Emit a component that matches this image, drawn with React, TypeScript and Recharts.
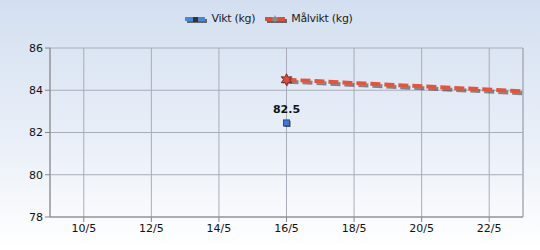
import {
  LineChart,
  Line,
  XAxis,
  YAxis,
  CartesianGrid,
  ReferenceLine,
  LabelList
} from 'recharts';

// dagar i maj
const days = [16, 23];
const vikt: (number | null)[] = [82.5, null];
const malvikt = [84.5, 83.95];

const xTicks = [10, 12, 14, 16, 18, 20, 22];
const yTicks = [78, 80, 82, 84, 86];

const data = days.map((d, i) => ({ day: d, vikt: vikt[i], malvikt: malvikt[i] }));

const FONT = '"DejaVu Sans", Tahoma, sans-serif';

function starPath(cx: number, cy: number, ro: number, ri: number) {
  const pts: string[] = [];
  for (let k = 0; k < 12; k++) {
    const r = k % 2 === 0 ? ro : ri;
    const a = (Math.PI / 6) * k - Math.PI / 2;
    pts.push(`${cx + r * Math.cos(a)},${cy + r * Math.sin(a)}`);
  }
  return `M${pts.join('L')}Z`;
}

const SquareDot = (props: any) => {
  const { cx, cy, index } = props;
  if (cx == null || cy == null || props.value == null) return <g key={`s${index}`} />;
  return (
    <g key={`s${index}`}>
      <rect x={cx - 2} y={cy - 1} width={6} height={6} fill="#222" opacity={0.8} />
      <rect x={cx - 3} y={cy - 2} width={6} height={6} fill="#3b78d8" stroke="#1d4c9a" strokeWidth={1} />
    </g>
  );
};

const StarDot = (props: any) => {
  const { cx, cy, index } = props;
  if (index !== 0 || cx == null) return <g key={`t${index}`} />;
  return (
    <g key={`t${index}`}>
      <path d={starPath(cx + 1, cy + 1, 6, 3)} fill="#555" opacity={0.6} />
      <path d={starPath(cx, cy, 6, 3)} fill="#d9503a" stroke="#7a2a2a" strokeWidth={1} />
    </g>
  );
};

function LegendItem({ color, label, marker }: { color: string; label: string; marker: 'square' | 'star' }) {
  return (
    <span style={{ display: 'inline-flex', alignItems: 'center', marginRight: 10 }}>
      <svg width={22} height={10} style={{ marginRight: 4 }}>
        <rect x={2} y={5} width={20} height={4} fill="#666" />
        <rect x={0} y={3} width={20} height={4} fill={color} />
        {marker === 'square' ? (
          <rect x={8} y={3} width={5} height={5} fill="#333" />
        ) : (
          <path d={starPath(10, 5, 4, 2)} fill="#8a8a8a" />
        )}
      </svg>
      <span>{label}</span>
    </span>
  );
}

export default function App() {
  return (
    <div
      style={{
        position: 'fixed',
        left: 0,
        top: 0,
        width: 540,
        height: 250,
        background: 'linear-gradient(to bottom, #d3dff0 0%, #e9eff8 55%, #ffffff 100%)',
        fontFamily: FONT
      }}
    >
      <div
        style={{
          position: 'absolute',
          top: 12,
          left: 4,
          width: 540,
          display: 'flex',
          justifyContent: 'center',
          fontSize: 11,
          letterSpacing: -0.3,
          color: '#222'
        }}
      >
        <LegendItem color="#4a86d8" label="Vikt (kg)" marker="square" />
        <LegendItem color="#d9503a" label="Målvikt (kg)" marker="star" />
      </div>
      <LineChart
        width={540}
        height={250}
        data={data}
        margin={{ top: 48, right: 17, left: 0, bottom: 0 }}
        style={{ position: 'absolute', left: 0, top: 0 }}
      >
        <defs>
          <filter id="shadow" x="-10%" y="-50%" width="120%" height="200%">
            <feDropShadow dx="2" dy="2" stdDeviation="0.6" floodColor="#333" floodOpacity="0.55" />
          </filter>
        </defs>
        <CartesianGrid stroke="#a9acb8" />
        <XAxis
          dataKey="day"
          type="number"
          domain={[9, 23]}
          ticks={xTicks}
          tickFormatter={(v: number) => `${v}/5`}
          height={33}
          stroke="#888"
          tickSize={5}
          tick={{ fill: '#111', fontSize: 11, fontFamily: FONT }}
          allowDataOverflow
        />
        <YAxis
          domain={[78, 86]}
          ticks={yTicks}
          width={50}
          stroke="#888"
          tickSize={5}
          tick={{ fill: '#111', fontSize: 11, fontFamily: FONT }}
          allowDataOverflow
        />
        <ReferenceLine x={23} stroke="#a9acb8" />
        <Line
          dataKey="malvikt"
          stroke="#e0553a"
          strokeWidth={4}
          strokeDasharray="10 4"
          filter="url(#shadow)"
          dot={StarDot}
          activeDot={false}
          isAnimationActive={false}
        />
        <Line
          dataKey="vikt"
          stroke="#4a86d8"
          strokeWidth={3}
          dot={SquareDot}
          activeDot={false}
          isAnimationActive={false}
        >
          <LabelList
            dataKey="vikt"
            position="top"
            offset={9}
            style={{ fill: '#111', fontSize: 11, fontFamily: FONT, fontWeight: 'bold' }}
          />
        </Line>
      </LineChart>
    </div>
  );
}
